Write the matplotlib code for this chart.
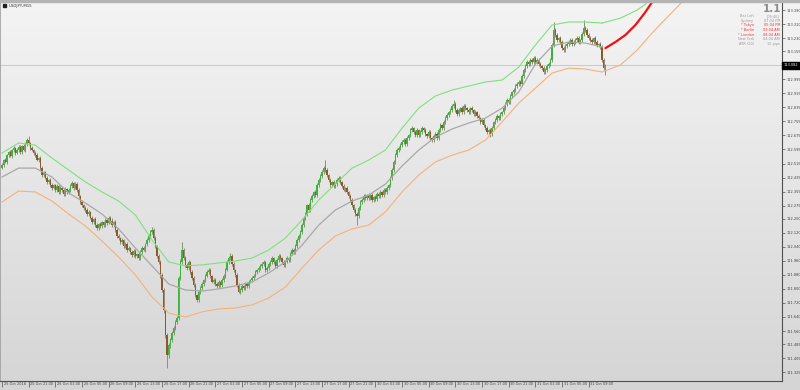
import numpy as np
import matplotlib
matplotlib.use("Agg")
import matplotlib.pyplot as plt
from matplotlib import font_manager
from matplotlib.colors import LinearSegmentedColormap
from matplotlib.transforms import blended_transform_factory, ScaledTranslation
from matplotlib.patches import Rectangle

# narrow font if there is one, else shrink DejaVu
installed = {f.name for f in font_manager.fontManager.ttflist}
if 'Liberation Sans Narrow' in installed:
    plt.rcParams['font.family'] = ['Liberation Sans Narrow', 'DejaVu Sans']
    fs = 3.0
else:
    plt.rcParams['font.family'] = ['DejaVu Sans']
    fs = 2.5

# USDJPY M15 closes, one per bar (bar 0 = 25 Oct 17:00)
first_open = 112.49
closes = [
    112.506, 112.535, 112.524, 112.563, 112.580, 112.558, 112.592, 112.603, 112.575, 112.592,
    112.609, 112.580, 112.614, 112.592, 112.626, 112.649, 112.632, 112.603, 112.592, 112.575,
    112.563, 112.535, 112.546, 112.489, 112.449, 112.466, 112.432, 112.409, 112.421, 112.392,
    112.375, 112.392, 112.364, 112.387, 112.352, 112.375, 112.364, 112.341, 112.370, 112.352,
    112.364, 112.387, 112.404, 112.375, 112.398, 112.364, 112.330, 112.296, 112.278, 112.261,
    112.250, 112.227, 112.238, 112.204, 112.181, 112.199, 112.164, 112.147, 112.170, 112.159,
    112.181, 112.164, 112.193, 112.176, 112.204, 112.187, 112.164, 112.181, 112.136, 112.102,
    112.090, 112.068, 112.079, 112.045, 112.056, 112.022, 112.033, 112.011, 111.993, 112.016,
    111.988, 111.999, 111.976, 112.011, 112.033, 112.022, 112.056, 112.079, 112.102, 112.124,
    112.136, 112.090, 112.045, 111.988, 111.954, 111.879, 111.794, 111.680, 111.538, 111.424,
    111.480, 111.509, 111.549, 111.577, 111.612, 111.634, 111.862, 111.954, 112.022, 111.976,
    111.936, 111.919, 111.954, 111.897, 111.862, 111.822, 111.765, 111.737, 111.782, 111.805,
    111.828, 111.851, 111.874, 111.897, 111.908, 111.874, 111.840, 111.851, 111.828, 111.817,
    111.840, 111.822, 111.851, 111.874, 111.908, 111.954, 111.976, 111.988, 111.942, 111.908,
    111.879, 111.822, 111.783, 111.794, 111.817, 111.805, 111.828, 111.817, 111.840, 111.851,
    111.862, 111.874, 111.897, 111.908, 111.919, 111.931, 111.942, 111.954, 111.908, 111.919,
    111.942, 111.954, 111.976, 111.954, 111.931, 111.965, 111.988, 111.976, 111.954, 111.936,
    111.954, 111.976, 111.965, 111.999, 112.022, 112.011, 112.045, 112.079, 112.102, 112.124,
    112.164, 112.204, 112.227, 112.278, 112.250, 112.307, 112.330, 112.352, 112.335, 112.392,
    112.421, 112.444, 112.466, 112.489, 112.478, 112.449, 112.421, 112.392, 112.409, 112.387,
    112.398, 112.421, 112.432, 112.409, 112.387, 112.364, 112.375, 112.352, 112.330, 112.307,
    112.278, 112.250, 112.227, 112.216, 112.261, 112.296, 112.307, 112.330, 112.318, 112.335,
    112.318, 112.335, 112.307, 112.324, 112.313, 112.341, 112.330, 112.352, 112.335, 112.364,
    112.352, 112.375, 112.392, 112.432, 112.478, 112.523, 112.563, 112.592, 112.603, 112.620,
    112.637, 112.649, 112.626, 112.660, 112.677, 112.706, 112.717, 112.694, 112.677, 112.706,
    112.677, 112.694, 112.717, 112.706, 112.683, 112.671, 112.694, 112.660, 112.649, 112.671,
    112.683, 112.660, 112.706, 112.734, 112.717, 112.751, 112.774, 112.791, 112.808, 112.820,
    112.843, 112.854, 112.820, 112.797, 112.820, 112.831, 112.808, 112.843, 112.831, 112.820,
    112.808, 112.831, 112.820, 112.797, 112.808, 112.786, 112.774, 112.751, 112.763, 112.734,
    112.717, 112.694, 112.706, 112.683, 112.717, 112.751, 112.763, 112.786, 112.774, 112.797,
    112.808, 112.831, 112.854, 112.877, 112.865, 112.900, 112.922, 112.934, 112.957, 112.968,
    112.980, 112.968, 113.014, 113.048, 113.071, 113.094, 113.082, 113.105, 113.094, 113.116,
    113.094, 113.105, 113.082, 113.071, 113.059, 113.037, 113.048, 113.071, 113.082, 113.105,
    113.190, 113.276, 113.247, 113.219, 113.230, 113.207, 113.173, 113.162, 113.185, 113.196,
    113.207, 113.219, 113.196, 113.207, 113.219, 113.230, 113.207, 113.219, 113.253, 113.287,
    113.276, 113.247, 113.230, 113.219, 113.207, 113.230, 113.207, 113.190, 113.196, 113.179,
    113.105, 113.059, 113.076,
]

# wick lengths above / below the body, in points (0.001)
upper_wick = [
    10, 8, 12, 6, 9, 14, 8, 10, 7, 12, 9, 11, 8, 10, 13, 9, 23, 8, 10, 7,
    9, 12, 8, 10, 14, 7, 9, 11, 8, 12, 10, 8, 9, 13, 7, 10, 8, 12, 9, 8,
    11, 9, 10, 8, 14, 9, 10, 7, 12, 8, 10, 9, 11, 8, 12, 7, 9, 10, 8, 11,
    9, 8, 12, 10, 9, 11, 17, 8, 10, 9, 12, 8, 10, 7, 11, 9, 10, 8, 12, 9,
    10, 8, 11, 9, 12, 10, 8, 9, 11, 14, 18, 9, 10, 8, 12, 10, 9, 11, 8, 10,
    12, 9, 10, 11, 8, 12, 14, 18, 46, 10, 9, 11, 12, 8, 10, 9, 11, 8, 10, 9,
    10, 8, 12, 9, 11, 10, 8, 12, 9, 10, 11, 8, 12, 9, 10, 13, 11, 17, 9, 10,
    8, 11, 9, 10, 12, 8, 10, 9, 11, 8, 12, 9, 10, 8, 11, 9, 10, 12, 8, 9,
    11, 9, 10, 8, 12, 9, 10, 11, 8, 10, 9, 12, 8, 11, 10, 9, 12, 10, 9, 11,
    12, 10, 14, 9, 11, 10, 12, 9, 11, 10, 12, 14, 10, 12, 46, 10, 9, 11, 8, 10,
    11, 9, 10, 12, 8, 10, 9, 11, 8, 10, 9, 8, 12, 10, 9, 11, 10, 9, 12, 8,
    10, 9, 11, 8, 10, 12, 9, 10, 8, 11, 10, 12, 9, 11, 14, 10, 12, 9, 11, 10,
    12, 9, 10, 11, 8, 12, 10, 9, 11, 10, 8, 12, 10, 9, 11, 8, 10, 12, 9, 10,
    11, 9, 10, 12, 8, 10, 12, 11, 9, 10, 11, 23, 9, 10, 12, 8, 10, 9, 11, 8,
    10, 9, 12, 8, 10, 9, 11, 8, 10, 12, 9, 10, 8, 11, 10, 9, 12, 10, 8, 11,
    9, 10, 12, 11, 10, 12, 9, 11, 10, 12, 10, 9, 12, 10, 11, 9, 10, 12, 9, 11,
    10, 9, 11, 10, 8, 12, 10, 9, 11, 10, 12, 46, 10, 12, 9, 11, 10, 12, 9, 10,
    11, 9, 10, 12, 9, 10, 11, 8, 12, 46, 10, 9, 11, 10, 12, 9, 10, 11, 9, 10,
    12, 10, 9,
]
lower_wick = [
    9, 11, 8, 10, 12, 7, 9, 11, 10, 8, 12, 9, 10, 8, 11, 9, 10, 12, 8, 10,
    11, 8, 10, 9, 12, 10, 8, 11, 9, 10, 12, 8, 10, 9, 11, 8, 10, 12, 9, 10,
    10, 12, 9, 11, 8, 10, 9, 12, 10, 11, 9, 10, 12, 8, 10, 11, 9, 10, 12, 9,
    10, 11, 9, 12, 8, 10, 9, 11, 10, 12, 9, 10, 11, 9, 12, 10, 8, 11, 10, 9,
    12, 10, 9, 11, 10, 8, 12, 9, 10, 11, 9, 12, 10, 11, 12, 14, 12, 15, 18, 74,
    20, 14, 12, 10, 12, 11, 12, 10, 12, 11, 10, 12, 9, 11, 10, 12, 9, 11, 10, 12,
    9, 11, 10, 8, 12, 10, 9, 11, 10, 12, 9, 10, 11, 9, 10, 8, 11, 10, 12, 9,
    10, 12, 9, 11, 10, 12, 9, 10, 11, 9, 10, 12, 8, 10, 11, 9, 12, 10, 9, 11,
    10, 9, 11, 10, 12, 9, 10, 11, 9, 10, 12, 9, 10, 11, 8, 10, 12, 9, 11, 10,
    9, 11, 10, 12, 9, 10, 11, 9, 12, 10, 11, 9, 10, 8, 11, 10, 12, 9, 10, 11,
    10, 12, 9, 11, 10, 8, 12, 10, 11, 9, 12, 10, 9, 51, 11, 10, 9, 12, 10, 11,
    9, 10, 12, 9, 11, 10, 12, 9, 10, 11, 9, 10, 12, 10, 9, 11, 10, 12, 9, 10,
    11, 9, 10, 12, 9, 11, 10, 9, 12, 10, 11, 9, 10, 12, 9, 10, 11, 9, 10, 12,
    9, 11, 10, 9, 12, 10, 11, 9, 10, 12, 9, 10, 11, 9, 10, 12, 9, 11, 10, 9,
    12, 10, 9, 11, 10, 12, 9, 11, 10, 9, 12, 10, 11, 14, 10, 9, 11, 10, 12, 9,
    10, 11, 9, 12, 10, 9, 11, 10, 12, 9, 11, 10, 12, 9, 10, 11, 9, 10, 12, 10,
    11, 9, 10, 12, 9, 11, 10, 9, 12, 10, 9, 11, 10, 12, 9, 10, 11, 9, 12, 10,
    10, 12, 9, 11, 10, 9, 12, 10, 11, 9, 10, 12, 9, 11, 10, 9, 12, 10, 11, 9,
    12, 10, 40,
]

# TMA bands, sampled every 10 bars
band_bars = [0, 10, 20, 30, 40, 50, 60, 70, 80, 90, 100, 110, 120, 130, 140, 150, 160, 170, 180,
             190, 200, 210, 220, 230, 240, 250, 260, 270, 280, 290, 300, 310, 320, 330, 340, 350, 360]
mid_band = [112.438, 112.489, 112.489, 112.438, 112.347, 112.290, 112.227, 112.142, 112.033, 111.931,
            111.828, 111.794, 111.788, 111.800, 111.817, 111.840, 111.891, 111.954, 112.050, 112.164,
            112.250, 112.301, 112.335, 112.398, 112.501, 112.592, 112.666, 112.712, 112.746, 112.774,
            112.831, 112.923, 113.082, 113.185, 113.208, 113.202, 113.179]
upper_band = [112.575, 112.632, 112.620, 112.546, 112.478, 112.410, 112.353, 112.301, 112.222, 112.079,
              111.954, 111.931, 111.937, 111.948, 111.959, 111.976, 112.022, 112.090, 112.193, 112.307,
              112.398, 112.489, 112.535, 112.592, 112.717, 112.831, 112.900, 112.934, 112.957, 112.980,
              112.991, 113.065, 113.191, 113.305, 113.322, 113.322, 113.316]
lower_band = [112.296, 112.358, 112.353, 112.301, 112.227, 112.159, 112.073, 111.982, 111.880, 111.754,
              111.663, 111.640, 111.669, 111.686, 111.691, 111.709, 111.748, 111.811, 111.919, 112.022,
              112.102, 112.142, 112.164, 112.239, 112.353, 112.449, 112.524, 112.563, 112.592, 112.649,
              112.752, 112.860, 112.945, 113.031, 113.059, 113.054, 113.037]

# projection of the bands past the last bar
mid_proj_bars = [362, 368, 374, 380, 386, 390, 392]
mid_proj = [113.173, 113.208, 113.248, 113.305, 113.379, 113.436, 113.464]
up_proj_bars = [360, 371, 381, 386, 390]
up_proj = [113.316, 113.344, 113.390, 113.424, 113.458]
lo_proj_bars = [360, 371, 381, 390, 395, 408, 410]
lo_proj = [113.037, 113.077, 113.162, 113.259, 113.310, 113.436, 113.458]

price_ticks = [113.390, 113.310, 113.230, 113.155, 112.995, 112.915, 112.835, 112.755, 112.675,
               112.595, 112.515, 112.435, 112.355, 112.275, 112.200, 112.120, 112.040, 111.960,
               111.880, 111.800, 111.720, 111.640, 111.560, 111.485, 111.405, 111.325]
current_price = 113.076
current_label = "113.082"

time_labels = ["25 Oct 2016", "25 Oct 21:00", "26 Oct 01:00", "26 Oct 05:00", "26 Oct 09:00",
               "26 Oct 13:00", "26 Oct 17:00", "26 Oct 21:00", "27 Oct 01:00", "27 Oct 05:00",
               "27 Oct 09:00", "27 Oct 13:00", "27 Oct 17:00", "27 Oct 21:00", "30 Oct 01:00",
               "30 Oct 05:00", "30 Oct 09:00", "30 Oct 13:00", "30 Oct 17:00", "30 Oct 21:00",
               "31 Oct 01:00", "31 Oct 05:00", "31 Oct 09:00"]
bars_per_label = 16

panel_names = ["Bar Left", "Sydney", "* Tokyo", "* Berlin", "* London", "New York", "ATR (20)"]
panel_values = ["[05:46]", "07:04 PM", "05:04 PM", "09:04 AM", "08:04 AM", "04:04 AM", "15 pips"]
panel_active = [False, False, True, True, True, False, False]

W, H = 800, 390
fig = plt.figure(figsize=(W / 100, H / 100), dpi=100)

# background gradient
bg = fig.add_axes([0, 0, 1, 1])
grad = np.linspace(0, 1, 256).reshape(-1, 1)
cmap = LinearSegmentedColormap.from_list("bg", ["#f4f4f4", "#d5d5d5"])
bg.imshow(grad, aspect="auto", cmap=cmap, extent=[0, 1, 0, 1], origin="upper")
bg.set_xlim(0, 1)
bg.set_ylim(0, 1)
bg.axis("off")
fig.patches.append(Rectangle((0, 1 - 2 / H), 1, 2 / H, transform=fig.transFigure,
                             color="#b4b4b4", zorder=5))

left, right, top, bottom = 0, 782, 2, 381
ax = fig.add_axes([left / W, 1 - bottom / H, (right - left) / W, (bottom - top) / H])
ax.patch.set_alpha(0)

n = len(closes)
idx = np.arange(n)
c = np.array(closes)
o = np.concatenate([[first_open], c[:-1]])
hi = np.maximum(o, c) + np.array(upper_wick) / 1000
lo = np.minimum(o, c) - np.array(lower_wick) / 1000
up = c >= o

ax.axhline(current_price, color="#c4c4c4", lw=0.6, zorder=1)

ax.vlines(idx[up], lo[up], hi[up], color="#7c9a6c", lw=0.7, zorder=2)
ax.vlines(idx[~up], lo[~up], hi[~up], color="#9a8a72", lw=0.7, zorder=2)
body = np.maximum(np.abs(c - o), 0.003)
ax.bar(idx[up], body[up], bottom=np.minimum(o, c)[up], width=0.85, color="#3cb43c", lw=0, zorder=3)
ax.bar(idx[~up], body[~up], bottom=np.minimum(o, c)[~up], width=0.85, color="#8b5a2b", lw=0, zorder=3)

ax.plot(band_bars, mid_band, color="#a8a8a8", lw=0.9, zorder=4)
ax.plot(band_bars, upper_band, color="#7fe07f", lw=0.8, zorder=4)
ax.plot(band_bars, lower_band, color="#f7b07a", lw=0.8, zorder=4)
ax.plot(up_proj_bars, up_proj, color="#7fe07f", lw=0.8, zorder=4)
ax.plot(lo_proj_bars, lo_proj, color="#f7b07a", lw=0.8, zorder=4)
ax.plot(mid_proj_bars, mid_proj, color="#ee1111", lw=1.6, zorder=4, solid_capstyle="round")

ax.set_xlim(-1.2, (right - 2) / 1.667)
ax.set_ylim(111.275, 113.436)

ax.spines["top"].set_visible(False)
ax.spines["left"].set_color("#a0a0a0")
ax.spines["left"].set_linewidth(0.6)
for s in ["right", "bottom"]:
    ax.spines[s].set_color("#505050")
    ax.spines[s].set_linewidth(0.8)

ax.yaxis.tick_right()
ax.set_yticks(price_ticks)
ax.set_yticklabels([f"{p:.3f}" for p in price_ticks])
ax.tick_params(axis="y", direction="out", length=2, width=0.5, color="#505050",
               labelsize=fs, labelcolor="#404040", pad=1.0)

ax.set_xticks([i * bars_per_label for i in range(len(time_labels))])
ax.set_xticklabels(time_labels)
ax.tick_params(axis="x", direction="out", length=4, width=0.5, color="#505050",
               labelsize=fs, labelcolor="#404040", pad=-3.2)
offset = ScaledTranslation(1.2 / 72, 0, fig.dpi_scale_trans)
for t in ax.get_xticklabels():
    t.set_horizontalalignment("left")
    t.set_transform(t.get_transform() + offset)

# current price tag
tr = blended_transform_factory(ax.transAxes, ax.transData)
ax.text(1.002, current_price, current_label, transform=tr, fontsize=fs, color="white",
        va="center", ha="left", clip_on=False,
        bbox=dict(boxstyle="square,pad=0.4", fc="black", ec="black"))

# top-left symbol label
fig.patches.append(Rectangle((3 / W, 1 - 7 / H), 3 / W, 3 / H, transform=fig.transFigure,
                             color="#202020", zorder=6))
fig.text(9 / W, 1 - 5.5 / H, "USDJPY,M15", fontsize=fs + 0.3, color="#303030", va="center", ha="left")

# info panel
fig.text(781 / W, 1 - 8.5 / H, "1.1", fontsize=7.5, color="#8c8c8c", fontweight="bold",
         va="center", ha="right")
for k, (name, val, act) in enumerate(zip(panel_names, panel_values, panel_active)):
    yy = 1 - (16 + k * 4.7) / H
    col = "#ff2a2a" if act else "#9a9a9a"
    fig.text(754 / W, yy, name, fontsize=fs, color=col, va="center", ha="right")
    fig.text(780 / W, yy, val, fontsize=fs, color=col, va="center", ha="right")

fig.savefig("out.png", dpi=100)
